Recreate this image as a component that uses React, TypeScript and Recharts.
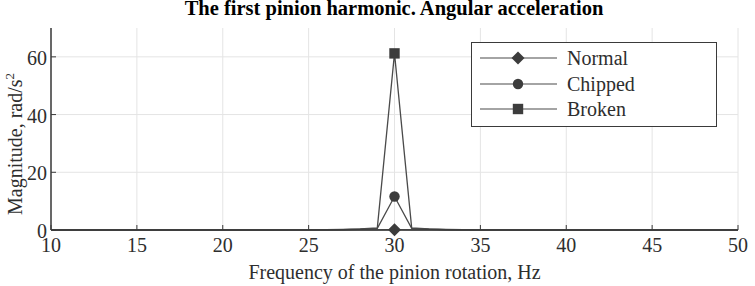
import React from 'react'
import { LineChart, Line, XAxis, YAxis, CartesianGrid, Legend } from 'recharts'

const FREQS = [10, 11, 12, 13, 14, 15, 16, 17, 18, 19, 20, 21, 22, 23, 24, 25, 26, 27, 28, 29, 30, 31, 32, 33, 34, 35, 36, 37, 38, 39, 40, 41, 42, 43, 44, 45, 46, 47, 48, 49, 50]
const NORMAL = [0, 0, 0, 0, 0, 0, 0, 0, 0, 0, 0, 0, 0, 0, 0, 0, 0, 0, 0.02, 0.05, 0.1, 0.05, 0.02, 0, 0, 0, 0, 0, 0, 0, 0, 0, 0, 0, 0, 0, 0, 0, 0, 0, 0]
const CHIPPED = [0, 0, 0, 0, 0, 0, 0, 0, 0, 0, 0, 0, 0, 0, 0.02, 0.04, 0.08, 0.15, 0.3, 0.55, 11.6, 0.55, 0.3, 0.15, 0.08, 0.04, 0.02, 0, 0, 0, 0, 0, 0, 0, 0, 0, 0, 0, 0, 0, 0]
const BROKEN = [0, 0, 0, 0, 0, 0, 0, 0, 0, 0, 0, 0, 0, 0.02, 0.04, 0.06, 0.1, 0.2, 0.35, 0.75, 61.2, 0.75, 0.35, 0.2, 0.1, 0.06, 0.04, 0.02, 0, 0, 0, 0, 0, 0, 0, 0, 0, 0, 0, 0, 0]
const X_TICKS = [10, 15, 20, 25, 30, 35, 40, 45, 50]
const Y_TICKS = [0, 20, 40, 60]
const MARKER_AT = 30

const SERIES = [
  { key: 'normal', name: 'Normal', shape: 'diamond' },
  { key: 'chipped', name: 'Chipped', shape: 'circle' },
  { key: 'broken', name: 'Broken', shape: 'square' },
]

const data = FREQS.map((f, i) => ({
  freq: f,
  normal: NORMAL[i],
  chipped: CHIPPED[i],
  broken: BROKEN[i],
}))

const LINE = '#4a4a4a'
const MARK = '#3c3c3c'
const AXIS = '#3a3a3a'
const TXT = '#2e2e2e'
const FONT = '"Liberation Serif", "Times New Roman", serif'
const FS = 20

function Marker({ shape, cx, cy }: { shape: string; cx: number; cy: number }) {
  if (shape === 'diamond') {
    return <polygon points={`${cx},${cy - 6.5} ${cx + 6.5},${cy} ${cx},${cy + 6.5} ${cx - 6.5},${cy}`} fill={MARK} />
  }
  if (shape === 'circle') {
    return <circle cx={cx} cy={cy} r={5.2} fill={MARK} />
  }
  return <rect x={cx - 5.2} y={cy - 5.2} width={10.4} height={10.4} fill={MARK} />
}

const makeDot = (shape: string) => (props: any) => {
  const { cx, cy, payload, index } = props
  if (payload.freq !== MARKER_AT) return <g key={index} />
  return <g key={index}><Marker shape={shape} cx={cx} cy={cy} /></g>
}

const XTick = (props: any) => {
  const { x, y, payload } = props
  const axisY = y - 8
  return (
    <g>
      <line x1={x} y1={axisY} x2={x} y2={axisY - 5} stroke={AXIS} strokeWidth={1} />
      <text x={x} y={axisY + 22} textAnchor="middle" fontSize={FS} fontFamily={FONT} fill={TXT}>
        {payload.value}
      </text>
    </g>
  )
}

const YTick = (props: any) => {
  const { x, y, payload } = props
  const axisX = x + 4
  return (
    <g>
      <line x1={axisX} y1={y} x2={axisX + 5} y2={y} stroke={AXIS} strokeWidth={1} />
      <text x={axisX - 4} y={y + 8} textAnchor="end" fontSize={FS} fontFamily={FONT} fill={TXT}>
        {payload.value}
      </text>
    </g>
  )
}

const LegendBox = () => (
  <div
    style={{
      position: 'absolute',
      left: 471,
      top: 42,
      width: 244,
      height: 83,
      border: `1.5px solid ${AXIS}`,
      background: '#fff',
      fontFamily: FONT,
      fontSize: FS,
      color: TXT,
    }}
  >
    {SERIES.map((s, i) => (
      <div key={s.key} style={{ position: 'absolute', left: 0, top: 3 + i * 25.5, height: 24, display: 'flex', alignItems: 'center' }}>
        <svg width={90} height={24} style={{ display: 'block' }}>
          <line x1={8} y1={12} x2={85} y2={12} stroke={LINE} strokeWidth={1.2} />
          <Marker shape={s.shape} cx={46} cy={12} />
        </svg>
        <span style={{ marginLeft: 5, lineHeight: '24px' }}>{s.name}</span>
      </div>
    ))}
  </div>
)

export default function App() {
  return (
    <div style={{ position: 'absolute', left: 0, top: 0, width: 755, height: 286, background: '#fff' }}>
      <LineChart width={755} height={286} data={data} margin={{ top: 28, right: 17, left: 0, bottom: 0 }}>
        <CartesianGrid stroke="#e4e4e4" strokeWidth={1} horizontalValues={Y_TICKS} verticalValues={X_TICKS} />
        <XAxis
          dataKey="freq"
          type="number"
          domain={[10, 50]}
          ticks={X_TICKS}
          interval={0}
          height={56}
          tickLine={false}
          tickSize={0}
          tickMargin={8}
          tick={<XTick />}
          axisLine={{ stroke: AXIS, strokeWidth: 1.5 }}
          label={{ value: 'Frequency of the pinion rotation, Hz', position: 'insideBottom', offset: 7, style: { fontFamily: FONT, fontSize: FS, fill: TXT } }}
        />
        <YAxis
          type="number"
          domain={[0, 70]}
          ticks={Y_TICKS}
          interval={0}
          width={51}
          tickLine={false}
          tickSize={0}
          tickMargin={4}
          tick={<YTick />}
          axisLine={{ stroke: AXIS, strokeWidth: 1.5 }}
        />
        {SERIES.map((s) => (
          <Line
            key={s.key}
            type="linear"
            dataKey={s.key}
            name={s.name}
            stroke={LINE}
            strokeWidth={1.3}
            dot={makeDot(s.shape)}
            activeDot={false}
            isAnimationActive={false}
          />
        ))}
        <Legend content={() => <LegendBox />} wrapperStyle={{ position: 'absolute', left: 0, top: 0, width: 0, height: 0 }} />
      </LineChart>
      <svg width={755} height={286} style={{ position: 'absolute', left: 0, top: 0, pointerEvents: 'none' }}>
        <text x={394} y={15} textAnchor="middle" fontFamily={FONT} fontWeight="bold" fontSize={20.5} fill="#000">
          The first pinion harmonic. Angular acceleration
        </text>
        <text x={22} y={215} transform="rotate(-90 22 215)" textAnchor="start" fontFamily={FONT} fontSize={FS} fill={TXT}>
          Magnitude, rad/s<tspan dy={-8} fontSize={13}>2</tspan>
        </text>
      </svg>
    </div>
  )
}
